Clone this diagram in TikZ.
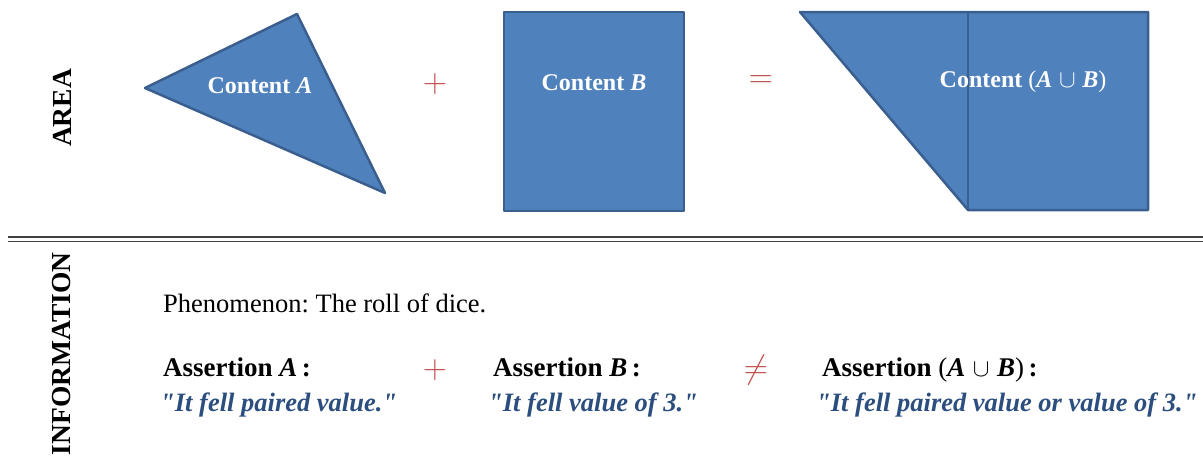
\documentclass[tikz,border=0pt]{standalone}
\usepackage{fontspec}
\setmainfont{Liberation Serif}[Ligatures=TeXOff]
\usetikzlibrary{positioning,calc}
\definecolor{blockfill}{HTML}{4F81BD}
\definecolor{blockline}{HTML}{3A5F8E}
\definecolor{opred}{HTML}{C0504D}
\definecolor{quoteblue}{HTML}{2B4E7E}
\frenchspacing

\begin{document}
\begin{tikzpicture}[x=1pt,y=-1pt,
  every node/.style={inner sep=0pt},
  region/.style={draw=blockline,fill=blockfill,line width=2.5pt,line join=round},
  blocklabel/.style={text=white,font=\fontsize{24}{28}\selectfont\bfseries},
  oper/.style={text=opred,font=\Huge,scale=1.35},
  sidelabel/.style={rotate=90,font=\fontsize{27.5}{30}\selectfont\bfseries},
  plaintext/.style={anchor=base west,font=\fontsize{26.5}{30}\selectfont},
  assertion/.style={anchor=base west,font=\fontsize{27}{30}\selectfont\bfseries},
  quote/.style={anchor=base west,text=quoteblue,font=\fontsize{26.5}{30}\selectfont\bfseries\itshape}
]
\useasboundingbox (0,0) rectangle (1203,459);

% Area row
\node[sidelabel] (area) at (62,108) {AREA};

\coordinate (triL) at (145,88);
\coordinate (triT) at (297,14);
\coordinate (triB) at (385,193);
\draw[region] (triL) -- (triT) -- (triB) -- cycle;
\node[blocklabel] (contA) at (260,86) {Content \textit{A}};

\node[oper] (plusT) at (435,84) {$+$};

\coordinate (sqNW) at (504,12);
\coordinate (sqSE) at (684,211);
\draw[region] (sqNW) rectangle (sqSE);
\node[blocklabel] (contB) at (594,83) {Content \textit{B}};

\node[oper] (eqT) at (761,82) {$=$};

\coordinate (trNW) at (800,12);
\coordinate (trNE) at (1148,12);
\coordinate (trSE) at (1148,210);
\coordinate (trSW) at (968,210);
\coordinate (trMid) at (968,12);
\draw[region] (trNW) -- (trNE) -- (trSE) -- (trSW) -- cycle;
\draw[blockline,line width=2.5pt] (trMid) -- (trSW);
\node[blocklabel] (contAB) at (1023,82) {Content {\mdseries(}\textit{A}\;{\mdseries$\cup$}\;\textit{B}{\mdseries)}};

% Separator
\coordinate (sepL) at (8,237);
\coordinate (sepR) at (1203,237);
\draw[black!75,line width=2pt] (sepL) -- (sepR);
\draw[black!75,line width=1pt] ($(sepL)+(0,4)$) -- ($(sepR)+(0,4)$);

% Information row
\node[sidelabel] (info) at (62,354) {INFORMATION};

\node[plaintext] (phen) at (163,312) {Phenomenon: The roll of dice.};

\node[assertion] (assA) at (163,376) {Assertion \textit{A}\,:};
\node[quote] (quoA) at (160,411) {"It fell paired value."};

\node[oper] (plusB) at (435,370) {$+$};

\node[assertion] (assB) at (493,376) {Assertion \textit{B}\,:};
\node[quote] (quoB) at (488,411) {"It fell value of 3."};

\node[oper] (neq) at (756,370) {$\neq$};

\node[assertion] (assAB) at (822,376) {Assertion {\mdseries(}\textit{A}\;{\mdseries$\cup$}\;\textit{B}{\mdseries)}\,:};
\node[quote] (quoAB) at (816,411) {"It fell paired value or value of 3."};
\end{tikzpicture}
\end{document}
